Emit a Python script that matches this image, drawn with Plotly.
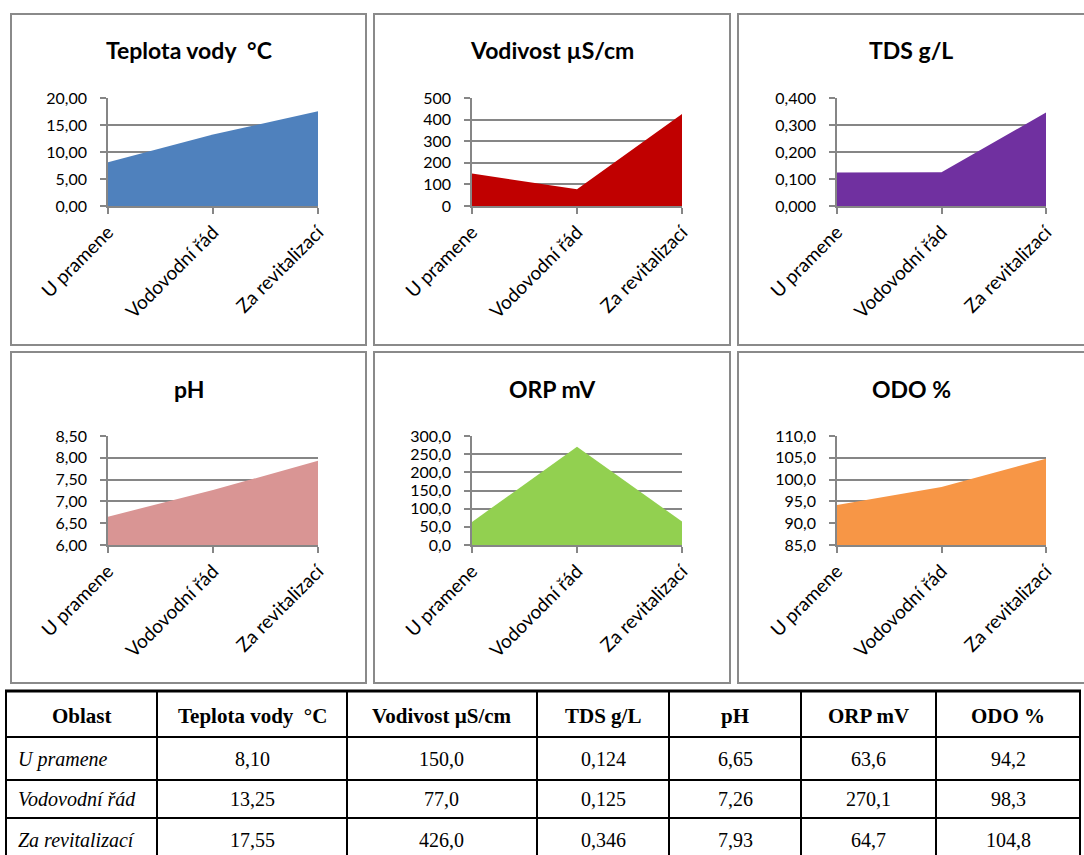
import plotly.graph_objects as go

# Sampling sites (categories)
sites = ["U pramene", "Vodovodní řád", "Za revitalizací"]

# Measured values per parameter
teplota = [8.10, 13.25, 17.55]
vodivost = [150.0, 77.0, 426.0]
tds = [0.124, 0.125, 0.346]
ph = [6.65, 7.26, 7.93]
orp = [63.6, 270.1, 64.7]
odo = [94.2, 98.3, 104.8]

# Panel titles and table headers
titles = ["Teplota vody  °C", "Vodivost µS/cm", "TDS g/L", "pH", "ORP mV", "ODO %"]
table_head = ["Oblast", "Teplota vody  °C", "Vodivost µS/cm", "TDS g/L", "pH", "ORP mV", "ODO %"]

W, H = 1084, 855


def px(x):
    return x / W


def py(y):
    return 1 - y / H


series = [teplota, vodivost, tds, ph, orp, odo]
colors = ["#4F81BD", "#C00000", "#7030A0", "#D99594", "#92D050", "#F79646"]
yranges = [(0, 20), (0, 500), (0, 0.4), (6, 8.5), (0, 300), (85, 110)]
dticks = [5, 100, 0.1, 0.5, 50, 5]
yfmts = [".2f", ".0f", ".3f", ".2f", ".1f", ".1f"]
decimals = [2, 1, 3, 2, 1, 1]

# plot-area pixel boxes (left, right) per column, (top, bottom) per row
cols_px = [(108, 318), (472, 682), (837, 1046)]
rows_px = [(98, 206), (436, 545)]
frames_x = [(11, 366), (374, 730), (738, 1095)]
frames_y = [(14, 345), (352, 683)]
title_y = [50, 389]

fig = go.Figure()
shapes = []
annotations = []

for i in range(6):
    r, c = divmod(i, 3)
    n = i + 1
    sfx = "" if n == 1 else str(n)
    fig.add_trace(go.Scatter(
        x=[0, 1, 2], y=series[i], mode="lines", fill="tozeroy",
        fillcolor=colors[i], line=dict(width=0, color=colors[i]),
        xaxis=f"x{sfx}", yaxis=f"y{sfx}",
        showlegend=False, hoverinfo="skip",
    ))
    l, rr = cols_px[c]
    t, b = rows_px[r]
    fig.layout[f"xaxis{sfx}"] = dict(
        domain=[px(l), px(rr)], range=[0, 2], anchor=f"y{sfx}", automargin=False,
        tickvals=[0, 1, 2], ticktext=sites, tickangle=-45,
        showgrid=False, zeroline=False, showline=True, linecolor="#868686", linewidth=1.5,
        ticks="outside", ticklen=6, tickcolor="#868686", tickwidth=1.5,
        tickfont=dict(family="Lato", size=19, color="#000000"), fixedrange=True,
    )
    fig.layout[f"yaxis{sfx}"] = dict(
        domain=[py(b), py(t)], range=list(yranges[i]), anchor=f"x{sfx}", automargin=False,
        dtick=dticks[i], tick0=yranges[i][0], tickformat=yfmts[i],
        showgrid=True, gridcolor="#868686", gridwidth=1.5, zeroline=False,
        showline=True, linecolor="#868686", linewidth=1.5,
        ticks="outside", ticklen=6, tickcolor="#868686", tickwidth=1.5,
        ticklabelstandoff=10,
        tickfont=dict(family="Lato", size=16, color="#000000"), fixedrange=True,
    )
    fx0, fx1 = frames_x[c]
    fy0, fy1 = frames_y[r]
    shapes.append(dict(type="rect", xref="paper", yref="paper",
                       x0=px(fx0), x1=px(fx1), y0=py(fy1), y1=py(fy0),
                       line=dict(color="#8a8a8a", width=2), layer="below"))
    annotations.append(dict(text=f"<b>{titles[i].replace('  ', ' &nbsp;')}</b>", xref="paper", yref="paper",
                            x=px((fx0 + min(fx1, 1084)) / 2), y=py(title_y[r]),
                            xanchor="center", yanchor="middle", showarrow=False,
                            font=dict(family="Lato", size=23, color="#000000")))

# Data table below the charts
col_edges = [6, 157, 347, 537, 669, 801, 936, 1080]
row_edges = [691, 737, 780, 818]
row_centers = [759, 799, 840]
header_center = 716

for k, y in enumerate(row_edges):
    shapes.append(dict(type="line", xref="paper", yref="paper",
                       x0=px(col_edges[0] - 1), x1=px(col_edges[-1] + 1), y0=py(y), y1=py(y),
                       line=dict(color="#000000", width=3 if k == 0 else 2)))
for x in col_edges:
    shapes.append(dict(type="line", xref="paper", yref="paper",
                       x0=px(x), x1=px(x), y0=py(row_edges[0]), y1=py(870),
                       line=dict(color="#000000", width=2)))


def fmt(v, d):
    return f"{v:.{d}f}".replace(".", ",")


serif = "Liberation Serif"
for j, h in enumerate(table_head):
    annotations.append(dict(text=f"<b>{h.replace('  ', ' &nbsp;')}</b>", xref="paper", yref="paper",
                            x=px((col_edges[j] + col_edges[j + 1]) / 2), y=py(header_center),
                            xanchor="center", yanchor="middle", showarrow=False,
                            font=dict(family=serif, size=21, color="#000000")))

for r, site in enumerate(sites):
    annotations.append(dict(text=f"<i>{site}</i>", xref="paper", yref="paper",
                            x=px(col_edges[0] + 10), y=py(row_centers[r]),
                            xanchor="left", yanchor="middle", showarrow=False,
                            font=dict(family=serif, size=20, color="#000000")))
    for j in range(6):
        annotations.append(dict(text=fmt(series[j][r], decimals[j]), xref="paper", yref="paper",
                                x=px((col_edges[j + 1] + col_edges[j + 2]) / 2), y=py(row_centers[r]),
                                xanchor="center", yanchor="middle", showarrow=False,
                                font=dict(family=serif, size=20, color="#000000")))

fig.update_layout(
    width=W, height=H, margin=dict(l=0, r=0, t=0, b=0, autoexpand=False),
    paper_bgcolor="#ffffff", plot_bgcolor="rgba(0,0,0,0)",
    separators=", ", shapes=shapes, annotations=annotations,
)

fig.write_html("out.html", config={"displayModeBar": False})
